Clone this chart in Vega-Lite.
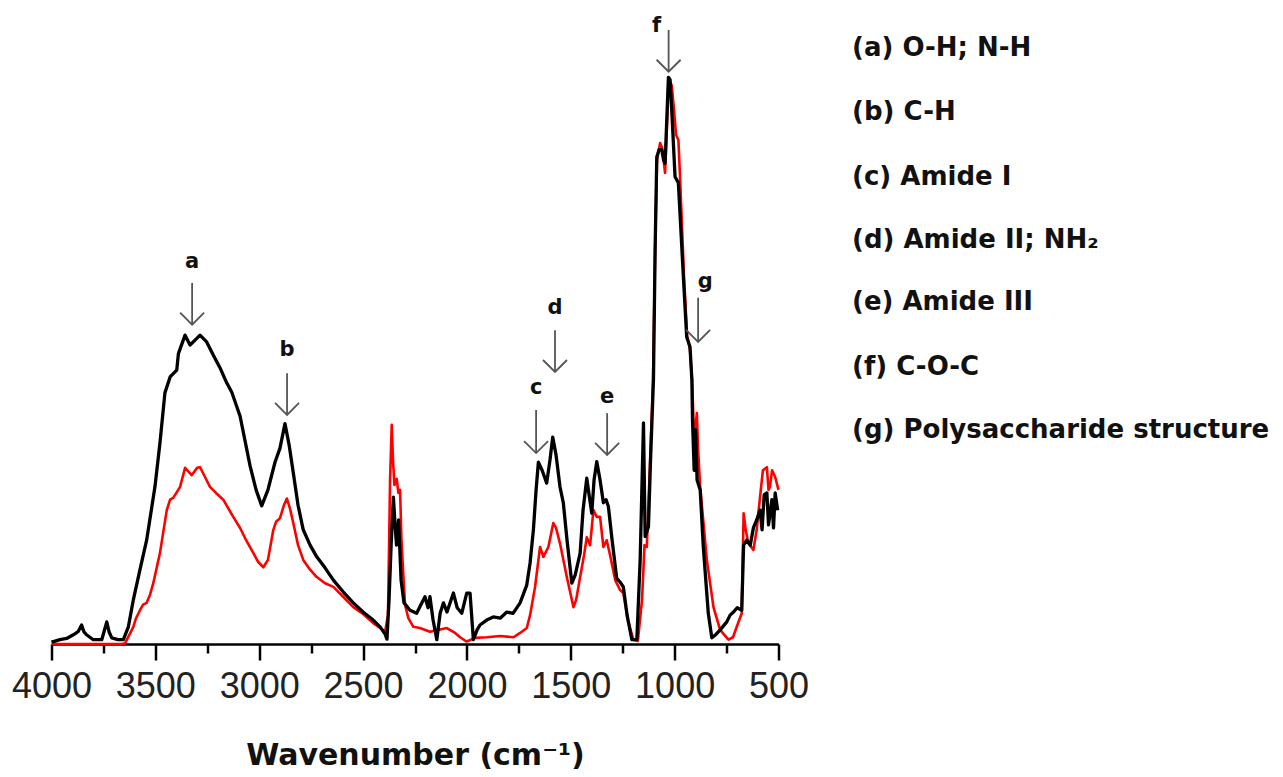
{
  "$schema": "https://vega.github.io/schema/vega-lite/v6.json",
  "width": 727,
  "height": 614,
  "autosize": {"type": "none"},
  "padding": {"left": 51.5, "top": 30, "right": 504.5, "bottom": 133},
  "background": "white",
  "config": {"view": {"stroke": null}},
  "datasets": {
    "black": [
      {"w":4000,"v":0.3},{"w":3991,"v":0.4},{"w":3959,"v":0.7},{"w":3927,"v":0.9},{"w":3895,"v":1.5},{"w":3872,"v":2.0},{"w":3855,"v":3.1},{"w":3844,"v":2.0},{"w":3831,"v":1.5},{"w":3799,"v":0.7},{"w":3758,"v":0.7},{"w":3734,"v":3.6},{"w":3723,"v":2.0},{"w":3710,"v":1.0},{"w":3680,"v":0.7},{"w":3654,"v":0.7},{"w":3630,"v":2.8},{"w":3606,"v":7.2},{"w":3574,"v":12.1},{"w":3542,"v":16.9},{"w":3502,"v":25.6},{"w":3478,"v":32.7},{"w":3454,"v":40.9},{"w":3429,"v":43.5},{"w":3397,"v":44.6},{"w":3389,"v":47.3},{"w":3357,"v":50.3},{"w":3333,"v":48.7},{"w":3309,"v":49.5},{"w":3285,"v":50.3},{"w":3253,"v":49.2},{"w":3222,"v":47.1},{"w":3189,"v":45.0},{"w":3156,"v":42.5},{"w":3132,"v":41.0},{"w":3092,"v":37.1},{"w":3044,"v":29.0},{"w":3015,"v":25.1},{"w":2988,"v":22.5},{"w":2958,"v":25.1},{"w":2924,"v":29.6},{"w":2900,"v":31.9},{"w":2876,"v":35.9},{"w":2856,"v":32.4},{"w":2836,"v":27.9},{"w":2813,"v":22.6},{"w":2788,"v":18.6},{"w":2755,"v":16.1},{"w":2723,"v":14.2},{"w":2683,"v":12.4},{"w":2643,"v":10.4},{"w":2596,"v":8.5},{"w":2547,"v":6.7},{"w":2500,"v":5.2},{"w":2451,"v":3.9},{"w":2418,"v":2.8},{"w":2394,"v":1.6},{"w":2385,"v":0.8},{"w":2375,"v":7.2},{"w":2365,"v":16.1},{"w":2354,"v":23.9},{"w":2346,"v":19.4},{"w":2339,"v":16.1},{"w":2329,"v":20.2},{"w":2317,"v":10.4},{"w":2303,"v":6.7},{"w":2274,"v":5.5},{"w":2242,"v":5.0},{"w":2226,"v":6.1},{"w":2202,"v":7.7},{"w":2187,"v":5.9},{"w":2178,"v":7.7},{"w":2163,"v":3.9},{"w":2145,"v":0.7},{"w":2129,"v":5.0},{"w":2113,"v":6.7},{"w":2096,"v":5.2},{"w":2065,"v":8.3},{"w":2047,"v":5.9},{"w":2025,"v":5.0},{"w":2001,"v":8.3},{"w":1985,"v":8.3},{"w":1969,"v":0.7},{"w":1951,"v":2.3},{"w":1937,"v":3.1},{"w":1905,"v":3.9},{"w":1873,"v":4.4},{"w":1840,"v":4.2},{"w":1808,"v":5.2},{"w":1778,"v":5.0},{"w":1744,"v":6.7},{"w":1712,"v":9.6},{"w":1696,"v":13.2},{"w":1680,"v":18.6},{"w":1667,"v":25.1},{"w":1656,"v":29.6},{"w":1638,"v":28.3},{"w":1616,"v":26.2},{"w":1600,"v":30.0},{"w":1587,"v":33.7},{"w":1571,"v":30.8},{"w":1552,"v":25.6},{"w":1536,"v":23.0},{"w":1518,"v":16.9},{"w":1495,"v":9.9},{"w":1479,"v":11.2},{"w":1455,"v":14.8},{"w":1441,"v":21.8},{"w":1423,"v":27.0},{"w":1412,"v":24.3},{"w":1399,"v":21.3},{"w":1388,"v":26.7},{"w":1375,"v":29.7},{"w":1359,"v":26.7},{"w":1343,"v":23.0},{"w":1330,"v":23.5},{"w":1319,"v":22.4},{"w":1301,"v":16.9},{"w":1279,"v":10.7},{"w":1263,"v":10.1},{"w":1247,"v":9.3},{"w":1229,"v":4.7},{"w":1206,"v":0.7},{"w":1182,"v":0.7},{"w":1166,"v":13.7},{"w":1150,"v":36.0},{"w":1142,"v":17.5},{"w":1126,"v":19.1},{"w":1116,"v":30.0},{"w":1102,"v":43.0},{"w":1094,"v":64.2},{"w":1086,"v":79.3},{"w":1075,"v":80.5},{"w":1062,"v":80.5},{"w":1053,"v":78.8},{"w":1046,"v":78.3},{"w":1030,"v":92.3},{"w":1022,"v":91.9},{"w":1014,"v":87.0},{"w":998,"v":76.1},{"w":982,"v":75.1},{"w":958,"v":59.8},{"w":942,"v":50.0},{"w":926,"v":48.4},{"w":917,"v":43.0},{"w":914,"v":36.5},{"w":906,"v":28.3},{"w":899,"v":34.9},{"w":892,"v":26.7},{"w":877,"v":25.1},{"w":862,"v":15.8},{"w":838,"v":5.0},{"w":821,"v":1.0},{"w":800,"v":1.6},{"w":781,"v":2.3},{"w":749,"v":3.6},{"w":733,"v":4.7},{"w":717,"v":5.2},{"w":699,"v":5.9},{"w":677,"v":5.5},{"w":668,"v":16.1},{"w":653,"v":16.9},{"w":636,"v":16.1},{"w":621,"v":18.9},{"w":605,"v":20.2},{"w":589,"v":21.8},{"w":579,"v":18.6},{"w":569,"v":24.3},{"w":556,"v":24.6},{"w":548,"v":19.4},{"w":532,"v":23.5},{"w":524,"v":18.9},{"w":516,"v":24.6},{"w":504,"v":21.8}
    ],
    "red": [
      {"w":4000,"v":0},{"w":3660,"v":0},{"w":3646,"v":0.1},{"w":3606,"v":2.8},{"w":3593,"v":4.2},{"w":3574,"v":5.5},{"w":3559,"v":6.4},{"w":3542,"v":6.7},{"w":3526,"v":8.0},{"w":3510,"v":9.9},{"w":3478,"v":14.8},{"w":3445,"v":21.8},{"w":3429,"v":23.5},{"w":3414,"v":23.8},{"w":3381,"v":25.6},{"w":3357,"v":28.7},{"w":3325,"v":27.5},{"w":3299,"v":28.7},{"w":3285,"v":28.8},{"w":3261,"v":27.2},{"w":3237,"v":25.6},{"w":3208,"v":24.6},{"w":3173,"v":23.5},{"w":3125,"v":20.7},{"w":3092,"v":18.9},{"w":3063,"v":16.9},{"w":3028,"v":14.8},{"w":3006,"v":13.4},{"w":2980,"v":12.5},{"w":2958,"v":13.7},{"w":2932,"v":18.6},{"w":2919,"v":19.9},{"w":2900,"v":20.5},{"w":2881,"v":22.6},{"w":2867,"v":23.7},{"w":2852,"v":22.1},{"w":2836,"v":19.7},{"w":2813,"v":16.1},{"w":2788,"v":13.7},{"w":2755,"v":12.1},{"w":2723,"v":10.9},{"w":2683,"v":9.9},{"w":2643,"v":9.3},{"w":2596,"v":7.7},{"w":2547,"v":6.0},{"w":2500,"v":4.9},{"w":2451,"v":3.4},{"w":2418,"v":2.6},{"w":2394,"v":2.0},{"w":2380,"v":4.7},{"w":2370,"v":26.7},{"w":2362,"v":35.7},{"w":2356,"v":30.0},{"w":2349,"v":25.9},{"w":2338,"v":26.9},{"w":2330,"v":24.6},{"w":2322,"v":25.1},{"w":2315,"v":16.9},{"w":2306,"v":11.2},{"w":2298,"v":6.4},{"w":2282,"v":4.2},{"w":2258,"v":2.8},{"w":2226,"v":2.6},{"w":2178,"v":2.0},{"w":2097,"v":2.6},{"w":2057,"v":1.8},{"w":2033,"v":1.1},{"w":2001,"v":0.4},{"w":1961,"v":1.0},{"w":1905,"v":1.1},{"w":1840,"v":1.3},{"w":1776,"v":1.1},{"w":1744,"v":1.8},{"w":1712,"v":2.6},{"w":1696,"v":4.7},{"w":1672,"v":9.3},{"w":1648,"v":15.8},{"w":1632,"v":14.2},{"w":1608,"v":15.8},{"w":1584,"v":19.7},{"w":1571,"v":18.9},{"w":1552,"v":16.4},{"w":1519,"v":10.9},{"w":1487,"v":6.0},{"w":1474,"v":7.2},{"w":1455,"v":10.9},{"w":1436,"v":14.5},{"w":1423,"v":17.4},{"w":1407,"v":16.1},{"w":1391,"v":21.8},{"w":1375,"v":20.7},{"w":1359,"v":20.7},{"w":1343,"v":15.8},{"w":1327,"v":16.9},{"w":1311,"v":14.5},{"w":1286,"v":10.4},{"w":1263,"v":8.8},{"w":1247,"v":8.3},{"w":1225,"v":3.9},{"w":1199,"v":0.7},{"w":1177,"v":0.5},{"w":1157,"v":7.2},{"w":1145,"v":16.1},{"w":1134,"v":15.8},{"w":1118,"v":30.0},{"w":1104,"v":43.0},{"w":1094,"v":64.2},{"w":1085,"v":78.8},{"w":1070,"v":81.6},{"w":1060,"v":80.8},{"w":1046,"v":76.7},{"w":1036,"v":85.3},{"w":1027,"v":91.9},{"w":1014,"v":91.0},{"w":1003,"v":87.0},{"w":993,"v":82.9},{"w":982,"v":82.1},{"w":974,"v":76.1},{"w":955,"v":59.9},{"w":940,"v":50.2},{"w":926,"v":47.9},{"w":916,"v":43.0},{"w":906,"v":33.2},{"w":893,"v":37.6},{"w":887,"v":31.6},{"w":877,"v":25.6},{"w":845,"v":13.7},{"w":813,"v":6.0},{"w":781,"v":2.3},{"w":741,"v":0.7},{"w":719,"v":1.1},{"w":701,"v":2.8},{"w":677,"v":5.0},{"w":668,"v":21.3},{"w":658,"v":18.6},{"w":645,"v":16.4},{"w":621,"v":15.3},{"w":605,"v":18.6},{"w":589,"v":23.9},{"w":575,"v":28.3},{"w":556,"v":28.8},{"w":548,"v":25.1},{"w":541,"v":25.6},{"w":531,"v":28.3},{"w":516,"v":27.2},{"w":500,"v":25.1}
    ],
    "arrows": [
      {"label":"a","lx":3323,"ly":62.2,"ax":3323,"top":58.8,"tip":52.0},
      {"label":"b","lx":2866,"ly":47.9,"ax":2866,"top":44.1,"tip":37.3},
      {"label":"c","lx":1667,"ly":41.7,"ax":1667,"top":38.1,"tip":31.1},
      {"label":"d","lx":1576,"ly":54.7,"ax":1576,"top":51.1,"tip":44.3},
      {"label":"e","lx":1325,"ly":40.2,"ax":1325,"top":37.6,"tip":30.8},
      {"label":"f","lx":1087,"ly":100.7,"ax":1029,"top":100,"tip":93.2},
      {"label":"g","lx":853,"ly":59.0,"ax":887,"top":56.4,"tip":49.2}
    ],
    "notes": [
      {"t":"(a) O-H; N-H","x":146,"y":97.1},
      {"t":"(b) C-H","x":146,"y":86.6},
      {"t":"(c) Amide I","x":146,"y":76.1},
      {"t":"(d) Amide II; NH₂","x":146,"y":65.8},
      {"t":"(e) Amide III","x":146,"y":55.7},
      {"t":"(f) C-O-C","x":146,"y":45.1},
      {"t":"(g) Polysaccharide structure","x":146,"y":34.9}
    ]
  },
  "layer": [
    {
      "data": {"name": "red"},
      "mark": {"type": "line", "color": "#ff0000", "strokeWidth": 2.6, "strokeJoin": "round"},
      "encoding": {
        "x": {
          "field": "w", "type": "quantitative",
          "scale": {"domain": [500, 4000], "reverse": true, "nice": false, "zero": false},
          "axis": {
            "values": [4000, 3750, 3500, 3250, 3000, 2750, 2500, 2250, 2000, 1750, 1500, 1250, 1000, 750, 500],
            "labelExpr": "datum.value % 500 === 0 ? datum.label : ''",
            "format": "d",
            "grid": false,
            "domainColor": "#000", "domainWidth": 2.5,
            "tickColor": "#000", "tickWidth": 2.5,
            "tickSize": {"condition": {"test": "datum.value % 500 === 0", "value": 16}, "value": 9},
            "labelFont": "Liberation Sans", "labelFontSize": 36, "labelColor": "#222",
            "labelPadding": 9, "labelOverlap": false, "labelFlush": false,
            "title": "Wavenumber (cm⁻¹)",
            "titleFont": "DejaVu Sans", "titleFontSize": 30, "titleFontWeight": "bold", "titleColor": "#111",
            "titlePadding": 36
          }
        },
        "y": {"field": "v", "type": "quantitative", "scale": {"domain": [0, 100], "nice": false, "zero": false}, "axis": null}
      }
    },
    {
      "data": {"name": "black"},
      "mark": {"type": "line", "color": "#000000", "strokeWidth": 3.3, "strokeJoin": "round"},
      "encoding": {
        "x": {"field": "w", "type": "quantitative"},
        "y": {"field": "v", "type": "quantitative", "axis": null}
      }
    },
    {
      "data": {"name": "arrows"},
      "mark": {"type": "rule", "color": "#555555", "strokeWidth": 1.8},
      "encoding": {
        "x": {"field": "ax", "type": "quantitative"},
        "y": {"field": "top", "type": "quantitative", "axis": null},
        "y2": {"field": "tip"}
      }
    },
    {
      "data": {"name": "arrows"},
      "mark": {"type": "point", "shape": "M-1,-1L0,0L1,-1", "size": 576, "filled": false, "color": "#555555", "strokeWidth": 1.8, "opacity": 1},
      "encoding": {
        "x": {"field": "ax", "type": "quantitative"},
        "y": {"field": "tip", "type": "quantitative", "axis": null}
      }
    },
    {
      "data": {"name": "arrows"},
      "mark": {"type": "text", "font": "DejaVu Sans", "fontWeight": "bold", "fontSize": 21, "color": "#111", "baseline": "middle", "align": "center"},
      "encoding": {
        "x": {"field": "lx", "type": "quantitative"},
        "y": {"field": "ly", "type": "quantitative", "axis": null},
        "text": {"field": "label"}
      }
    },
    {
      "data": {"name": "notes"},
      "mark": {"type": "text", "font": "DejaVu Sans", "fontWeight": "bold", "fontSize": 26, "color": "#111", "baseline": "middle", "align": "left"},
      "encoding": {
        "x": {"field": "x", "type": "quantitative"},
        "y": {"field": "y", "type": "quantitative", "axis": null},
        "text": {"field": "t"}
      }
    }
  ]
}
